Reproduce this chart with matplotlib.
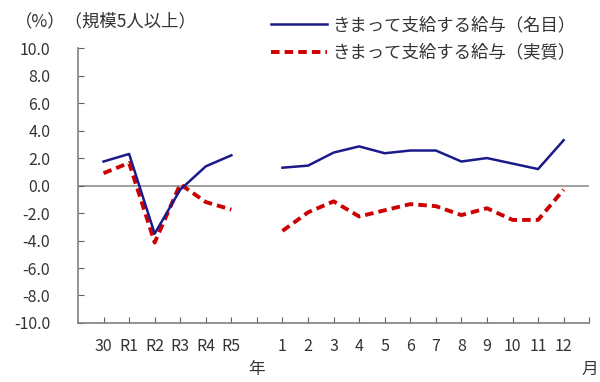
import numpy as np
import matplotlib.pyplot as plt

plt.rcParams['font.family'] = ['Noto Sans CJK JP', 'DejaVu Sans']

# 年度（30～R5）と月（1～12）、間に1つ空き
cats = ['30', 'R1', 'R2', 'R3', 'R4', 'R5', '',
        '1', '2', '3', '4', '5', '6', '7', '8', '9', '10', '11', '12']

nominal_year = [1.75, 2.3, -3.5, -0.3, 1.4, 2.2]
nominal_month = [1.3, 1.45, 2.4, 2.85, 2.35, 2.55, 2.55, 1.75, 2.0, 1.6, 1.2, 3.3]
real_year = [0.9, 1.65, -4.15, 0.1, -1.2, -1.75]
real_month = [-3.3, -1.95, -1.15, -2.25, -1.8, -1.35, -1.5, -2.15, -1.65, -2.5, -2.5, -0.3]

yticks = [10.0, 8.0, 6.0, 4.0, 2.0, 0.0, -2.0, -4.0, -6.0, -8.0, -10.0]

nominal = nominal_year + [np.nan] + nominal_month
real = real_year + [np.nan] + real_month
x = np.arange(len(cats))

fig = plt.figure(figsize=(6, 3.82), dpi=100)
ax = fig.add_axes([0.13, 0.1545, 0.852, 0.7195])

ax.axhline(0, color='#909090', lw=1.2, zorder=1)
ax.plot(x, nominal, color='#1a1a8a', lw=1.8, label='きまって支給する給与（名目）', zorder=3)
ax.plot(x, real, color='#cc0000', lw=2.8, ls=(0, (2.2, 1.3)),
        label='きまって支給する給与（実質）', zorder=2)

ax.set_xlim(-1, 19)
ax.set_ylim(-10, 10)
ax.set_xticks(np.arange(0, 20))
ax.set_xticklabels(cats + [''])
ax.set_yticks(yticks)
ax.set_yticklabels(['%.1f' % v for v in yticks])

for s in ['top', 'right']:
    ax.spines[s].set_visible(False)
for s in ['left', 'bottom']:
    ax.spines[s].set_color('#808080')
    ax.spines[s].set_linewidth(1.2)

ax.tick_params(axis='both', direction='in', length=4, color='#606060',
               labelcolor='#333333', labelsize=11.5)
ax.tick_params(axis='x', pad=11)
ax.tick_params(axis='y', pad=20)

fig.text(0.025, 0.943, '（%）（規模5人以上）', fontsize=12.5, color='#333333', va='center')
fig.text(0.428, 0.032, '年', fontsize=12, color='#333333', ha='center', va='center')
fig.text(0.983, 0.032, '月', fontsize=12, color='#333333', ha='center', va='center')

ax.legend(loc='upper left', bbox_to_anchor=(0.452, 0.958), bbox_transform=fig.transFigure,
          frameon=False, fontsize=12.5, handlelength=3.2, handletextpad=0.3,
          labelspacing=0.55, borderpad=0, borderaxespad=0, labelcolor='#333333')

fig.savefig('out.png', dpi=100)
